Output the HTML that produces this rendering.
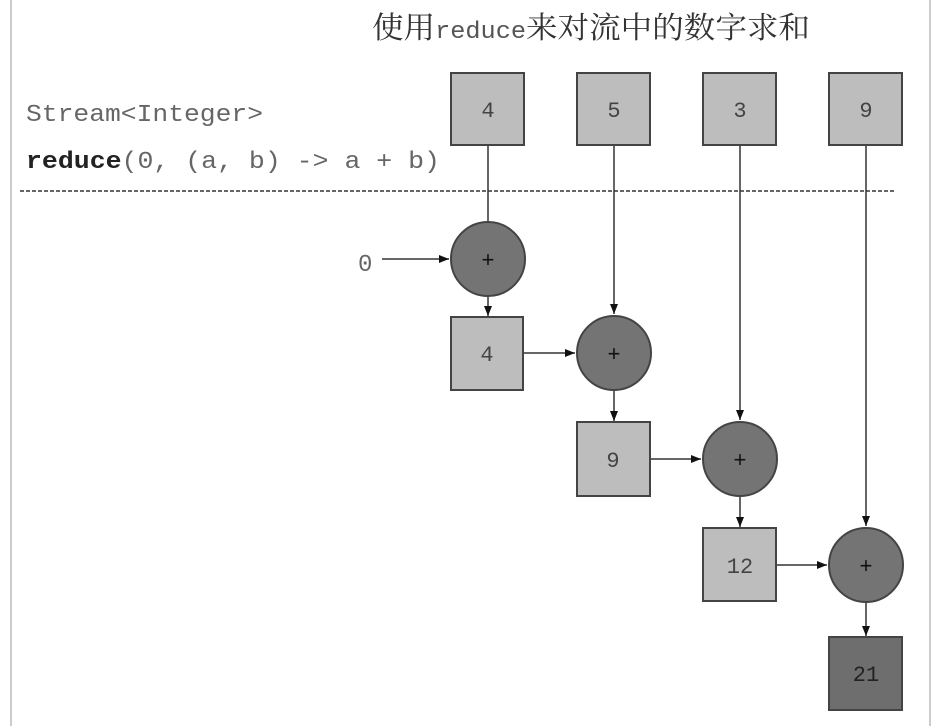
<!DOCTYPE html>
<html><head><meta charset="utf-8"><style>
html,body{margin:0;padding:0;background:#fff;}
svg{display:block;}
</style></head><body>
<svg width="935" height="726" viewBox="0 0 935 726" xmlns="http://www.w3.org/2000/svg">
<defs>
<marker id="a" markerWidth="10" markerHeight="8" refX="10" refY="4" orient="auto" markerUnits="userSpaceOnUse">
<path d="M0,0 L10,4 L0,8 Z" fill="#111"/>
</marker>
</defs>
<line x1="11" y1="0" x2="11" y2="726" stroke="#ccc" stroke-width="2"/>
<line x1="930" y1="0" x2="930" y2="726" stroke="#ccc" stroke-width="2"/>
<text x="372" y="38" font-family="Liberation Serif, Noto Serif CJK SC, serif" font-size="30" fill="#333" textLength="438" lengthAdjust="spacingAndGlyphs">使用<tspan font-family="Liberation Mono, monospace" font-size="24" fill="#555">reduce</tspan>来对流中的数字求和</text>
<g font-family="Liberation Mono, monospace" font-size="24" fill="#666">
<text x="26" y="121" textLength="237" lengthAdjust="spacingAndGlyphs">Stream&lt;Integer&gt;</text>
<text x="26" y="168" textLength="414" lengthAdjust="spacingAndGlyphs"><tspan font-weight="bold" fill="#222">reduce</tspan>(0, (a, b) -&gt; a + b)</text>
<text x="358" y="271">0</text>
</g>
<line x1="20" y1="191" x2="896" y2="191" stroke="#666" stroke-width="2" stroke-dasharray="4,2"/>
<g stroke="#333" stroke-width="1.5" fill="none">
<line x1="488" y1="145" x2="488" y2="222"/>
<line x1="614" y1="145" x2="614" y2="314" marker-end="url(#a)"/>
<line x1="740" y1="145" x2="740" y2="420" marker-end="url(#a)"/>
<line x1="866" y1="145" x2="866" y2="526" marker-end="url(#a)"/>
<line x1="382" y1="259" x2="449" y2="259" marker-end="url(#a)"/>
<line x1="488" y1="296" x2="488" y2="316" marker-end="url(#a)"/>
<line x1="523" y1="353" x2="575" y2="353" marker-end="url(#a)"/>
<line x1="614" y1="390" x2="614" y2="421" marker-end="url(#a)"/>
<line x1="650" y1="459" x2="701" y2="459" marker-end="url(#a)"/>
<line x1="740" y1="496" x2="740" y2="527" marker-end="url(#a)"/>
<line x1="776" y1="565" x2="827" y2="565" marker-end="url(#a)"/>
<line x1="866" y1="602" x2="866" y2="636" marker-end="url(#a)"/>
</g>
<g stroke="#444" stroke-width="2">
<rect x="451" y="73" width="73" height="72" fill="#bdbdbd"/>
<rect x="577" y="73" width="73" height="72" fill="#bdbdbd"/>
<rect x="703" y="73" width="73" height="72" fill="#bdbdbd"/>
<rect x="829" y="73" width="73" height="72" fill="#bdbdbd"/>
<rect x="451" y="317" width="72" height="73" fill="#bdbdbd"/>
<rect x="577" y="422" width="73" height="74" fill="#bdbdbd"/>
<rect x="703" y="528" width="73" height="73" fill="#bdbdbd"/>
<rect x="829" y="637" width="73" height="73" fill="#6e6e6e"/>
<circle cx="488" cy="259" r="37" fill="#747474"/>
<circle cx="614" cy="353" r="37" fill="#747474"/>
<circle cx="740" cy="459" r="37" fill="#747474"/>
<circle cx="866" cy="565" r="37" fill="#747474"/>
</g>
<g font-family="Liberation Mono, monospace" font-size="22" fill="#444" text-anchor="middle">
<text x="488" y="117">4</text><text x="614" y="117">5</text><text x="740" y="117">3</text><text x="866" y="117">9</text>
<text x="487" y="361">4</text><text x="613" y="467">9</text><text x="740" y="573">12</text><text x="866" y="681" fill="#222">21</text>
<g fill="#111"><text x="488" y="267">+</text><text x="614" y="361">+</text><text x="740" y="467">+</text><text x="866" y="573">+</text></g>
</g>
</svg>
</body></html>
